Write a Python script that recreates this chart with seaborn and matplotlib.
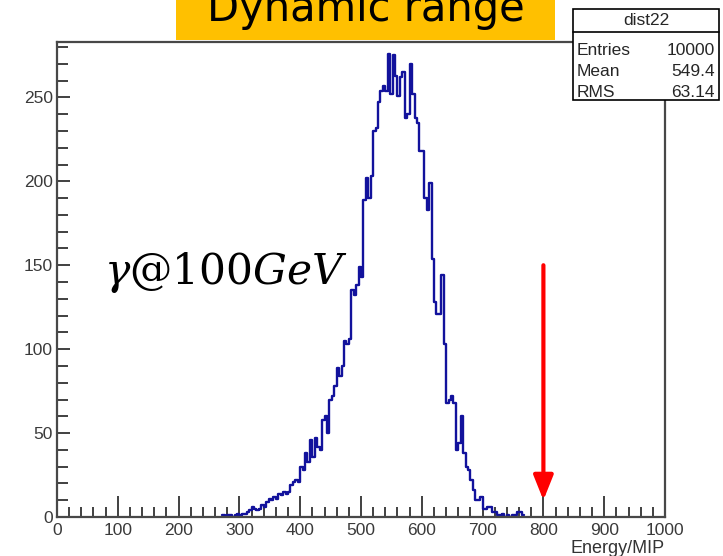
#!/usr/bin/env python3
"""Energy/MIP histogram (ROOT style) for 100 GeV photons."""

import matplotlib
matplotlib.use("Agg")
import matplotlib.pyplot as plt
from matplotlib.patches import Rectangle
from matplotlib.ticker import MultipleLocator
import numpy as np
import pandas as pd
import seaborn as sns

# histogram: 4-unit bins, left edges from 272
BIN_WIDTH = 4
BIN_START = 272
COUNTS = [
    1, 0, 1, 1, 0, 1, 2, 1, 2, 2, 3, 4, 6, 5, 4, 5, 7, 6, 9, 11,
    10, 12, 11, 14, 13, 15, 14, 15, 19, 21, 22, 21, 30, 28, 38, 33, 46, 36, 47, 42,
    40, 58, 60, 50, 70, 72, 78, 89, 84, 90, 105, 103, 106, 135, 132, 138, 149, 143, 189, 202,
    190, 203, 230, 232, 247, 254, 257, 254, 276, 252, 275, 263, 251, 262, 265, 238, 240, 270, 252, 238,
    235, 218, 218, 190, 183, 199, 154, 128, 121, 121, 144, 103, 68, 70, 72, 68, 40, 44, 60, 38,
    30, 28, 22, 16, 10, 10, 12, 5, 5, 6, 6, 3, 3, 1, 1, 2, 0, 1, 0, 1,
    1, 3, 3, 1,
]

STATS_NAME = "dist22"
STATS_ROWS = [("Entries", "10000"), ("Mean", "549.4"), ("RMS", "63.14")]
TITLE = "Dynamic range"
LABEL = r"$\gamma@100GeV$"
X_LABEL = "Energy/MIP"
ARROW_X = 800
ARROW_FROM = 150
ARROW_TO = 10

sns.set_style("ticks")
plt.rcParams.update({
    "font.family": ["Liberation Sans", "DejaVu Sans"],
    "mathtext.fontset": "dejavuserif",
    "axes.edgecolor": "#484848",
    "axes.linewidth": 1.6,
})

bin_end = BIN_START + BIN_WIDTH * len(COUNTS)
df = pd.DataFrame({
    "energy": BIN_START + BIN_WIDTH * (np.arange(len(COUNTS)) + 0.5),
    "count": COUNTS,
})

fig = plt.figure(figsize=(7.23, 5.56), dpi=100)
ax = fig.add_axes([0.0788, 0.0701, 0.841, 0.8544])

sns.histplot(data=df, x="energy", weights="count", binwidth=BIN_WIDTH,
             binrange=(BIN_START, bin_end), element="step",
             fill=False, color="#12129c", linewidth=1.7, ax=ax)

ax.set_xlim(0, 1000)
ax.set_ylim(0, 283)
ax.set_ylabel("")
ax.set_xlabel(X_LABEL, fontsize=13, color="#333333", loc="right", labelpad=2)

ax.xaxis.set_major_locator(MultipleLocator(100))
ax.xaxis.set_minor_locator(MultipleLocator(20))
ax.yaxis.set_major_locator(MultipleLocator(50))
ax.yaxis.set_minor_locator(MultipleLocator(10))
ax.tick_params(axis="both", which="both", direction="in", color="#404040",
               labelcolor="#3a3a3a", labelsize=12.5)
ax.tick_params(axis="x", which="major", length=15, width=1.4, pad=4)
ax.tick_params(axis="x", which="minor", length=7, width=1.4)
ax.tick_params(axis="y", which="major", length=9.5, width=1.4, pad=3)
ax.tick_params(axis="y", which="minor", length=8, width=1.4)

# red marker arrow at 800
ax.annotate("", xy=(ARROW_X, ARROW_TO), xytext=(ARROW_X, ARROW_FROM),
            arrowprops=dict(arrowstyle="-|>,head_length=1.5,head_width=0.6",
                            color="red", lw=3.0, mutation_scale=10,
                            shrinkA=0, shrinkB=0))

ax.text(78, 139, LABEL, fontsize=30.5, color="black", va="baseline")

# stats box
fig.add_artist(Rectangle((0.7925, 0.8201), 0.202, 0.1637, transform=fig.transFigure,
                         facecolor="white", edgecolor="black", linewidth=1.2, zorder=5))
fig.add_artist(plt.Line2D([0.7925, 0.9945], [0.9424, 0.9424], transform=fig.transFigure,
                          color="black", linewidth=1.2, zorder=6))
fig.text(0.8935, 0.963, STATS_NAME, ha="center", va="center", fontsize=12.5, zorder=7)
for i, (name, value) in enumerate(STATS_ROWS):
    y = 0.910 - i * 0.0385
    fig.text(0.798, y, name, ha="left", va="center", fontsize=12.5, zorder=7)
    fig.text(0.989, y, value, ha="right", va="center", fontsize=12.5, zorder=7)

# orange title box, cut at the top of the picture
fig.add_artist(Rectangle((0.2434, 0.928), 0.5242, 0.08, transform=fig.transFigure,
                         facecolor="#ffc000", edgecolor="none", zorder=5))
fig.text(0.5055, 0.962, TITLE, ha="center", va="baseline", fontsize=30,
         family="DejaVu Sans", color="black", zorder=6)

fig.savefig("out.png", dpi=100)
